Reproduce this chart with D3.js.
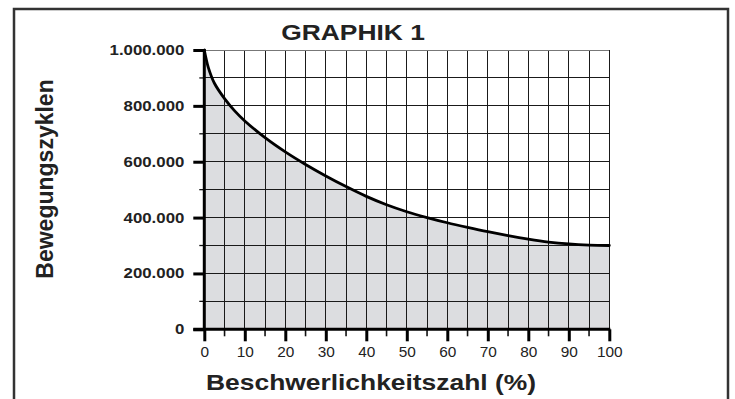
<!DOCTYPE html>
<html>
<head>
<meta charset="utf-8">
<script src="https://cdn.jsdelivr.net/npm/d3@7"></script>
<style>
  html, body { margin: 0; padding: 0; background: #fff; }
  svg { display: block; font-family: "Liberation Sans", Arial, Helvetica, sans-serif; }
</style>
</head>
<body>
<svg id="chart" width="735" height="399"></svg>
<script>
// Load factor (%) against movement cycles
const load   = [0, 0.4, 1, 2.5, 5, 7.5, 10, 15, 20, 25, 30, 35, 40, 45, 50, 55, 60, 65, 70, 75, 80, 85, 90, 95, 100];
const cycles = [1000000, 972000, 937000, 881000, 826000, 782000, 746000, 686000, 635000, 590000, 549000, 511000,
                476000, 446000, 421000, 400000, 381500, 365000, 349500, 335500, 323000, 312500, 305500, 301500, 300000];

const xTickValues = [0, 10, 20, 30, 40, 50, 60, 70, 80, 90, 100];
const xMinorValues = [5, 15, 25, 35, 45, 55, 65, 75, 85, 95];
const yTickValues = [0, 200000, 400000, 600000, 800000, 1000000];
const yMinorValues = [100000, 300000, 500000, 700000, 900000];

const title = "GRAPHIK 1";
const xTitle = "Beschwerlichkeitszahl (%)";
const yTitle = "Bewegungszyklen";

const svg = d3.select("#chart");
const SX = 1.2; // horizontal widening of the lettering

const x = d3.scaleLinear().domain([0, 100]).range([204.3, 609.3]);
const y = d3.scaleLinear().domain([0, 1000000]).range([329.3, 50]);

const de = d3.formatLocale({ decimal: ",", thousands: ".", grouping: [3], currency: ["", " €"] });
const fmt = de.format(",");

const curve = d3.curveCatmullRom.alpha(0.5);

// outer frame
svg.append("rect")
  .attr("x", 14).attr("y", 9).attr("width", 714).attr("height", 420)
  .attr("fill", "none").attr("stroke", "#333").attr("stroke-width", 2.5);

// area under the curve
const pts = load.map((d, i) => [d, cycles[i]]);
svg.append("path")
  .datum(pts)
  .attr("fill", "#dcdde0")
  .attr("d", d3.area().x(d => x(d[0])).y0(y(0)).y1(d => y(d[1])).curve(curve));

// grid
const grid = svg.append("g").attr("stroke", "#1a1a1a").attr("stroke-width", 1).attr("shape-rendering", "crispEdges");
grid.selectAll("line.v")
  .data(xMinorValues.concat(xTickValues.filter(v => v > 0)))
  .join("line")
  .attr("x1", d => x(d)).attr("x2", d => x(d))
  .attr("y1", y(1000000)).attr("y2", y(0));
grid.selectAll("line.h")
  .data(yMinorValues.concat(yTickValues.filter(v => v > 0)))
  .join("line")
  .attr("x1", d => x(0)).attr("x2", x(100))
  .attr("y1", d => y(d)).attr("y2", d => y(d))
  .attr("stroke", d => d === 1000000 ? "#777" : null);

// minor ticks
svg.append("g").attr("stroke", "#111").attr("stroke-width", 1.3)
  .selectAll("line").data(yMinorValues).join("line")
  .attr("x1", x(0) - 5).attr("x2", x(0)).attr("y1", d => y(d)).attr("y2", d => y(d));
svg.append("g").attr("stroke", "#111").attr("stroke-width", 1.6)
  .selectAll("line").data(xMinorValues).join("line")
  .attr("x1", d => x(d)).attr("x2", d => x(d)).attr("y1", y(0)).attr("y2", y(0) + 7);

// curve
svg.append("path")
  .datum(pts)
  .attr("fill", "none").attr("stroke", "#000").attr("stroke-width", 2.8)
  .attr("stroke-linecap", "round")
  .attr("d", d3.line().x(d => x(d[0])).y(d => y(d[1])).curve(curve));

// y axis
const yAxis = svg.append("g")
  .attr("transform", `translate(${x(0)},0)`)
  .call(d3.axisLeft(y).tickValues(yTickValues).tickSize(11).tickPadding(9).tickFormat(fmt));
yAxis.select(".domain").remove();
yAxis.selectAll(".tick line").attr("stroke", "#000").attr("stroke-width", 3);
yAxis.selectAll(".tick text")
  .attr("x", null)
  .attr("transform", `translate(-20,0) scale(${SX},1)`)
  .attr("fill", "#222").attr("font-size", 14).attr("font-weight", "bold")
  .attr("font-family", "'Liberation Sans', Arial, sans-serif");

// x axis
const xAxis = svg.append("g")
  .attr("transform", `translate(0,${y(0)})`)
  .call(d3.axisBottom(x).tickValues(xTickValues).tickSize(12).tickPadding(5).tickFormat(d3.format("d")));
xAxis.select(".domain").remove();
xAxis.selectAll(".tick line").attr("stroke", "#000").attr("stroke-width", 3);
xAxis.selectAll(".tick text")
  .attr("y", null).attr("dy", null)
  .attr("transform", `translate(0,28) scale(1.1,1)`)
  .attr("fill", "#222").attr("font-size", 14)
  .attr("font-family", "'Liberation Sans', Arial, sans-serif");

// axis lines
svg.append("line")
  .attr("x1", x(0)).attr("x2", x(0)).attr("y1", y(1000000) - 1).attr("y2", y(0) + 1.5)
  .attr("stroke", "#000").attr("stroke-width", 3);
svg.append("line")
  .attr("x1", x(0) - 11).attr("x2", x(100) + 1).attr("y1", y(0)).attr("y2", y(0))
  .attr("stroke", "#000").attr("stroke-width", 3);

// titles
svg.append("text")
  .attr("transform", `translate(353,39.5) scale(${SX},1)`)
  .attr("text-anchor", "middle").attr("font-size", 22).attr("font-weight", "bold").attr("fill", "#222")
  .text(title);

svg.append("text")
  .attr("transform", `translate(371,390) scale(${SX},1)`)
  .attr("text-anchor", "middle").attr("font-size", 22).attr("font-weight", "bold").attr("fill", "#222")
  .text(xTitle);

svg.append("text")
  .attr("transform", `translate(53,179) rotate(-90)`)
  .attr("text-anchor", "middle").attr("font-size", 23).attr("font-weight", "bold").attr("fill", "#222")
  .text(yTitle);
</script>
</body>
</html>
